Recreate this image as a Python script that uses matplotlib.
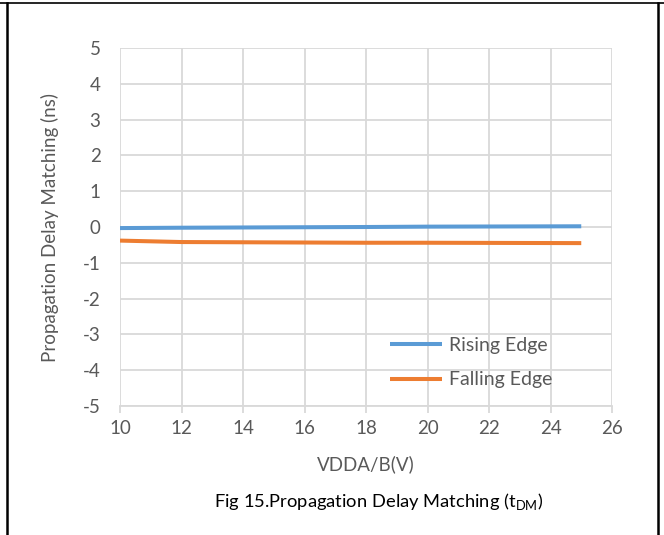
import matplotlib.pyplot as plt
from matplotlib.lines import Line2D

plt.rcParams['font.family'] = ['Lato', 'DejaVu Sans']
plt.rcParams['mathtext.fontset'] = 'custom'
plt.rcParams['mathtext.rm'] = 'Lato'
plt.rcParams['axes.unicode_minus'] = False

vdd = [10, 12, 15, 18, 20, 25]
rising_edge = [-0.03, -0.02, -0.01, 0.0, 0.01, 0.02]
falling_edge = [-0.38, -0.42, -0.43, -0.44, -0.44, -0.45]

x_ticks = [10, 12, 14, 16, 18, 20, 22, 24, 26]
y_ticks = [-5, -4, -3, -2, -1, 0, 1, 2, 3, 4, 5]

grid_c = '#d9d9d9'
text_c = '#595959'
fs = 13.5


def plot():
    W, H = 664, 535
    fig = plt.figure(figsize=(W / 100, H / 100), dpi=100)
    ax = fig.add_axes([120 / W, 1 - 406 / H, (612 - 120) / W, (406 - 48) / H])

    ax.plot(vdd, rising_edge, color='#5b9bd5', lw=2.9, label='Rising Edge',
            solid_capstyle='butt')
    ax.plot(vdd, falling_edge, color='#ed7d31', lw=2.9, label='Falling Edge',
            solid_capstyle='butt')

    ax.set_xlim(10, 26)
    ax.set_ylim(-5, 5)
    ax.set_xticks(x_ticks)
    ax.set_yticks(y_ticks)
    ax.grid(True, color=grid_c, lw=1.3)
    ax.set_axisbelow(True)
    for s in ax.spines.values():
        s.set_visible(False)
    ax.spines['bottom'].set_visible(True)
    ax.spines['bottom'].set_color(grid_c)
    ax.spines['bottom'].set_linewidth(1.3)
    ax.tick_params(axis='x', colors=grid_c, length=5, width=1.3,
                   labelcolor=text_c, labelsize=fs, pad=5)
    ax.tick_params(axis='y', length=0, labelcolor=text_c, labelsize=fs, pad=14)

    ax.set_xlabel('VDDA/B(V)', color=text_c, fontsize=fs, labelpad=13)
    ax.set_ylabel('Propagation Delay Matching (ns)', color=text_c,
                  fontsize=fs, labelpad=17)

    leg = ax.legend(loc='lower right', bbox_to_anchor=(0.915, 0.0),
                    frameon=False, fontsize=14, handlelength=2.7,
                    handletextpad=0.35, labelspacing=0.9)
    for t in leg.get_texts():
        t.set_color(text_c)

    fig.text(379 / W, 1 - 502 / H,
             r'Fig 15.Propagation Delay Matching (t$_{\mathrm{DM}}$)',
             ha='center', va='center', fontsize=13.2, color='black')

    # table cell border around the figure
    fig.add_artist(Line2D([0, 1], [1 - 3 / H, 1 - 3 / H],
                          transform=fig.transFigure, color='black', lw=1.2))
    fig.add_artist(Line2D([7 / W, 7 / W], [0, 1 - 3 / H],
                          transform=fig.transFigure, color='black', lw=1.8))
    fig.add_artist(Line2D([658 / W, 658 / W], [0, 1 - 3 / H],
                          transform=fig.transFigure, color='black', lw=1.8))

    fig.savefig('out.png', dpi=100)


def main():
    plot()


if __name__ == '__main__':
    main()
